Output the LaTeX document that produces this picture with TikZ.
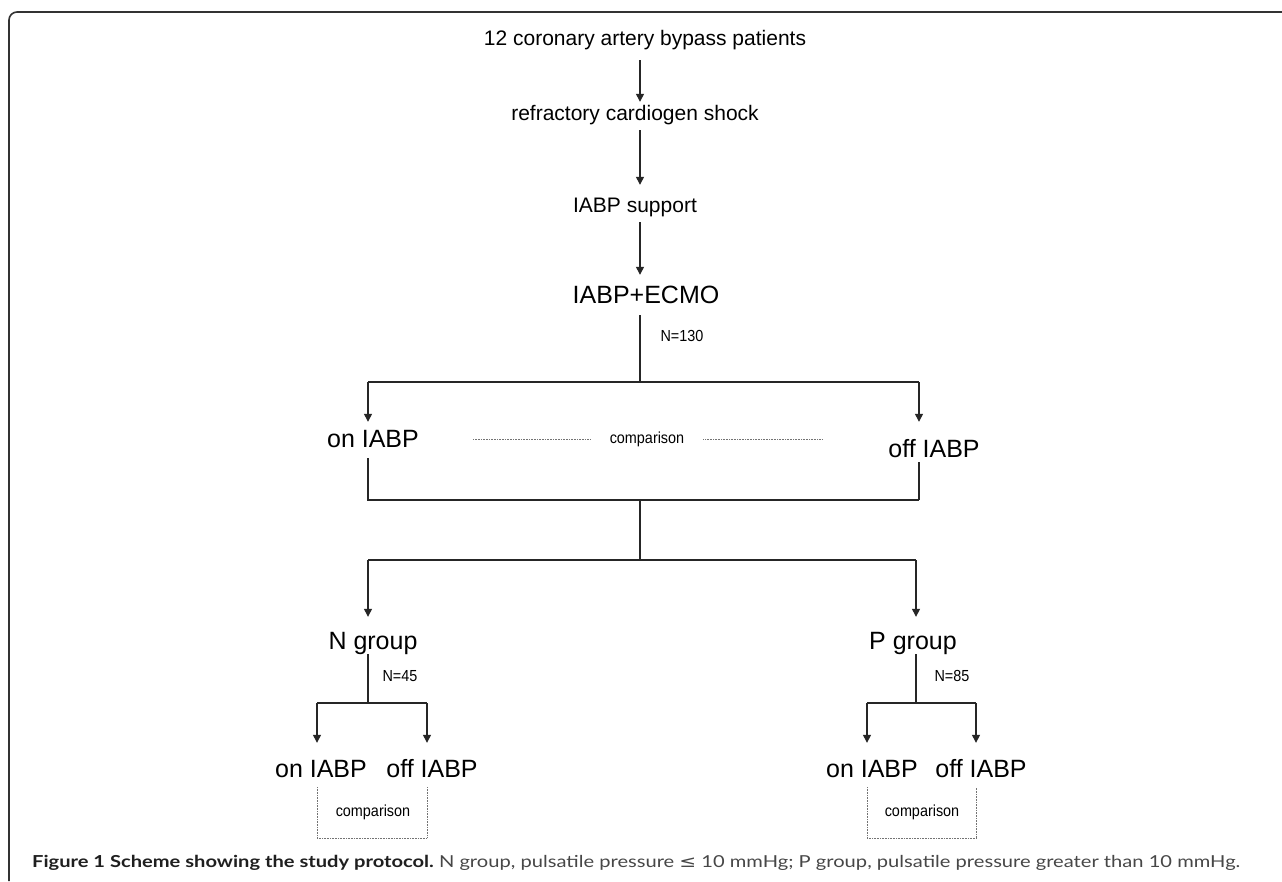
\documentclass[tikz,border=0pt]{standalone}
\usepackage{fontspec}
\usepackage{graphicx}
\setmainfont{Liberation Sans}
\newfontfamily\capfont{Lato}
\newfontfamily\symfont{DejaVu Sans}
\newfontfamily\narrowfont[FakeStretch=0.9]{Liberation Sans}
\usetikzlibrary{arrows.meta}
\begin{document}
\begin{tikzpicture}[x=1pt,y=-1pt,
  lab/.style={font=\fontsize{21}{21}\selectfont, inner sep=0pt, text height=15pt, text depth=4.5pt, anchor=base},
  big/.style={font=\fontsize{25}{25}\selectfont, inner sep=0pt, text height=18pt, text depth=5pt, anchor=base},
  sm/.style={font=\narrowfont\fontsize{16}{16}\selectfont, inner sep=0pt},
  conn/.style={line width=1.3pt, black!85},
  arr/.style={conn, -{Triangle[length=8pt,width=8pt]}},
  dotl/.style={line width=0.9pt, black!55, dash pattern=on 0.8pt off 0.8pt},
  frame/.style={line width=1.6pt, black!80, rounded corners=8pt}]
\useasboundingbox (0,0) rectangle (1282,881);
\fill[white] (0,0) rectangle (1282,881);
\draw[frame] (9,881) -- (9,12) -- (1282,12);

% top chain
\coordinate (col) at (640,0);
\node[lab] (t1) at (645,45) {12 coronary artery bypass patients};
\node[lab] (t2) at (635,120) {refractory cardiogen shock};
\node[lab] (t3) at (635,212) {IABP support};
\node[big] (t4) at (646,303) {IABP+ECMO};
\draw[arr, shorten <=10.5pt, shorten >=3pt] (t1.south -| col) -- (t2.north -| col);
\draw[arr, shorten <=5.5pt, shorten >=12pt] (t2.south -| col) -- (t3.north -| col);
\draw[arr, shorten <=5.5pt, shorten >=10pt] (t3.south -| col) -- (t4.north -| col);

% first split
\coordinate (j1) at (640,382);
\coordinate (jL) at (368,382);
\coordinate (jR) at (919,382);
\node[sm] (n130) at (682,336) {N=130};
\node[big] (onA) at (373,447) {on IABP};
\node[big] (offA) at (934,457) {off IABP};
\draw[conn, shorten <=7pt] (t4.south -| col) -- (j1);
\draw[conn] (jL) -- (jR);
\draw[arr, shorten >=7pt] (jL) -- (onA.north -| jL);
\draw[arr, shorten >=17pt] (jR) -- (offA.north -| jR);

% comparison
\node[sm] (cmp) at (647,439) {comparison};
\draw[dotl] ([xshift=-19pt]cmp.west) -- ([xshift=-137pt]cmp.west);
\draw[dotl] ([xshift=19pt]cmp.east) -- ([xshift=138pt]cmp.east);

% join
\coordinate (kL) at (368,500);
\coordinate (kR) at (919,500);
\coordinate (kC) at (640,500);
\draw[conn, shorten <=6pt] (onA.south -| jL) -- (kL) -- (kR);
\draw[conn] (kR) -- (offA.south -| jR);

% second split
\coordinate (mC) at (640,560);
\coordinate (mL) at (368,560);
\coordinate (mR) at (916,560);
\draw[conn] (kC) -- (mC);
\draw[conn] (mL) -- (mR);
\node[big] (ng) at (373,649) {N group};
\node[big] (pg) at (913,649) {P group};
\draw[arr, shorten >=14pt] (mL) -- (ng.north -| mL);
\draw[arr, shorten >=14pt] (mR) -- (pg.north -| mR);

% sub-splits
\coordinate (sNC) at (368,703);
\coordinate (sNL) at (317,703);
\coordinate (sNR) at (427,703);
\coordinate (sPC) at (916,703);
\coordinate (sPL) at (867,703);
\coordinate (sPR) at (976,703);
\node[sm] (n45) at (400,676) {N=45};
\node[sm] (n85) at (952,676) {N=85};
\draw[conn] (ng.south -| mL) -- (sNC);
\draw[conn] (pg.south -| mR) -- (sPC);
\draw[conn] (sNL) -- (sNR);
\draw[conn] (sPL) -- (sPR);

\node[big] (onN) at (321,777) {on IABP};
\node[big] (offN) at (432,777) {off IABP};
\node[big] (onP) at (872,777) {on IABP};
\node[big] (offP) at (981,777) {off IABP};
\draw[arr, shorten >=16pt] (sNL) -- (onN.north -| sNL);
\draw[arr, shorten >=16pt] (sNR) -- (offN.north -| sNR);
\draw[arr, shorten >=16pt] (sPL) -- (onP.north -| sPL);
\draw[arr, shorten >=16pt] (sPR) -- (offP.north -| sPR);

% comparison boxes
\coordinate (bNa) at (317,787);
\coordinate (bNb) at (317,838);
\coordinate (bNc) at (427,838);
\coordinate (bNd) at (427,787);
\coordinate (bPa) at (867,787);
\coordinate (bPb) at (867,838);
\coordinate (bPc) at (976,838);
\coordinate (bPd) at (976,787);
\draw[dotl] (bNa) -- (bNb) -- (bNc) -- (bNd);
\draw[dotl] (bPa) -- (bPb) -- (bPc) -- (bPd);
\node[sm] (cN) at (373,812) {comparison};
\node[sm] (cP) at (922,812) {comparison};

% caption
\node[anchor=base west, inner sep=0pt] (cap) at (32,867)
 {\resizebox{1208pt}{\height}{\capfont\fontsize{16.5}{16.5}\selectfont{\color{black!88}\textbf{Figure 1 Scheme showing the study protocol.}}\ {\color{black!72}N group, pulsatile pressure {\symfont ≤} 10 mmHg; P group, pulsatile pressure greater than 10 mmHg.}}};
\end{tikzpicture}
\end{document}
